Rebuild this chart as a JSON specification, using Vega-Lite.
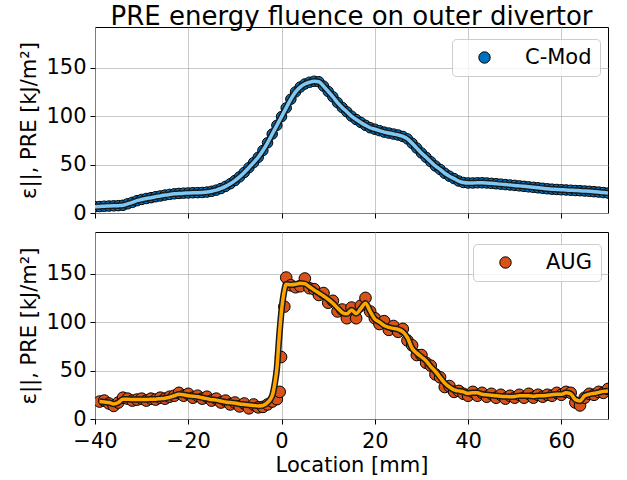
{
"$schema": "https://vega.github.io/schema/vega-lite/v6.json",
"padding": {"left": 18, "top": 3, "right": 5, "bottom": 5},
"config": {
 "font": "DejaVu Sans",
 "view": {"stroke": "black", "strokeWidth": 1},
 "axis": {"labelFontSize": 21, "titleFontSize": 21, "labelColor": "black", "titleColor": "black", "titleFontWeight": "normal", "tickColor": "black", "tickSize": 5, "domain": false, "gridColor": "#b0b0b0", "gridOpacity": 0.7, "labelPadding": 4, "labelFlush": false},
 "legend": {"orient": "none", "padding": 8, "strokeColor": "#cccccc", "fillColor": "rgba(255,255,255,0.8)", "cornerRadius": 4, "labelFontSize": 21, "labelColor": "black", "symbolSize": 130, "symbolOffset": 14, "labelOffset": 30, "symbolStrokeColor": "black", "symbolStrokeWidth": 1, "symbolOpacity": 1, "symbolType": "circle"},
 "title": {"fontSize": 26, "fontWeight": "normal", "color": "black"}
},
"datasets": {
 "cmod": [
{"x":-40,"e":6.5},{"x":-39,"e":6.7},{"x":-38,"e":7},{"x":-37,"e":7.2},{"x":-36,"e":7.4},{"x":-35,"e":7.6},{"x":-34,"e":8},{"x":-33,"e":9.5},{"x":-32,"e":11},{"x":-31,"e":12.7},
{"x":-30,"e":14},{"x":-29,"e":15},{"x":-28,"e":15.8},{"x":-27,"e":16.8},{"x":-26,"e":17.6},{"x":-25,"e":18.5},{"x":-24,"e":19.2},{"x":-23,"e":19.8},{"x":-22,"e":20.2},{"x":-21,"e":20.5},
{"x":-20,"e":20.7},{"x":-19,"e":20.9},{"x":-18,"e":21},{"x":-17,"e":21.2},{"x":-16,"e":21.6},{"x":-15,"e":22.4},{"x":-14,"e":23.6},{"x":-13,"e":25.3},{"x":-12,"e":27.5},{"x":-11,"e":30.2},
{"x":-10,"e":33.5},{"x":-9,"e":37.3},{"x":-8,"e":41.8},{"x":-7,"e":46.8},{"x":-6,"e":52},{"x":-5,"e":57.5},{"x":-4,"e":64.5},{"x":-3,"e":72.5},{"x":-2,"e":81.5},{"x":-1,"e":90.5},
{"x":0,"e":99.5},{"x":1,"e":108.5},{"x":2,"e":117.5},{"x":3,"e":125},{"x":4,"e":130},{"x":5,"e":133.2},{"x":6,"e":135},{"x":7,"e":136},{"x":8,"e":135.5},{"x":9,"e":131},
{"x":10,"e":125.5},{"x":11,"e":120},{"x":12,"e":114},{"x":13,"e":109},{"x":14,"e":104.5},{"x":15,"e":100},{"x":16,"e":96.5},{"x":17,"e":93.5},{"x":18,"e":90.5},{"x":19,"e":88},
{"x":20,"e":86.5},{"x":21,"e":85},{"x":22,"e":83.5},{"x":23,"e":82.5},{"x":24,"e":81.5},{"x":25,"e":80.5},{"x":26,"e":79},{"x":27,"e":76.5},{"x":28,"e":72},{"x":29,"e":67},
{"x":30,"e":62},{"x":31,"e":57.5},{"x":32,"e":53},{"x":33,"e":48.5},{"x":34,"e":45},{"x":35,"e":41},{"x":36,"e":38},{"x":37,"e":35.5},{"x":38,"e":33},{"x":39,"e":31.5},
{"x":40,"e":31},{"x":41,"e":31},{"x":42,"e":31.2},{"x":43,"e":31.2},{"x":44,"e":31},{"x":45,"e":30.6},{"x":46,"e":30.2},{"x":47,"e":29.8},{"x":48,"e":29.3},{"x":49,"e":28.9},
{"x":50,"e":28.5},{"x":51,"e":28},{"x":52,"e":27.5},{"x":53,"e":27},{"x":54,"e":26.5},{"x":55,"e":26},{"x":56,"e":25.5},{"x":57,"e":25},{"x":58,"e":24.6},{"x":59,"e":24.3},
{"x":60,"e":24},{"x":61,"e":23.8},{"x":62,"e":23.5},{"x":63,"e":23.2},{"x":64,"e":23},{"x":65,"e":22.7},{"x":66,"e":22.4},{"x":67,"e":22},{"x":68,"e":21.6},{"x":69,"e":21.1},{"x":70,"e":20.6}
 ],
 "aug": [
{"x":-39,"e":18},{"x":-38,"e":19},{"x":-37,"e":16},{"x":-36,"e":13.5},{"x":-35,"e":17},{"x":-34,"e":22},{"x":-33,"e":21},{"x":-32,"e":19},{"x":-31,"e":20},{"x":-30,"e":21},
{"x":-29,"e":19},{"x":-28,"e":21},{"x":-27,"e":20},{"x":-26,"e":22},{"x":-25,"e":21},{"x":-24,"e":23},{"x":-23,"e":24},{"x":-22,"e":27},{"x":-21,"e":24},{"x":-20,"e":26},
{"x":-19,"e":22},{"x":-18,"e":24},{"x":-17,"e":21},{"x":-16,"e":23},{"x":-15,"e":19},{"x":-14,"e":21},{"x":-13,"e":17},{"x":-12,"e":19},{"x":-11,"e":15},{"x":-10,"e":17},
{"x":-9,"e":13},{"x":-8,"e":16},{"x":-7,"e":11},{"x":-6,"e":15},{"x":-5,"e":12},{"x":-4,"e":12.5},{"x":-3,"e":15},{"x":-2,"e":18},{"x":-1,"e":20.5},{"x":-0.4,"e":28},
{"x":-0.1,"e":64},{"x":0.6,"e":116},{"x":1,"e":146},{"x":2,"e":138},{"x":3,"e":136},{"x":4,"e":137},{"x":5,"e":145},{"x":6,"e":135},{"x":7,"e":134},{"x":8,"e":128},
{"x":9,"e":130},{"x":10,"e":120},{"x":11,"e":122},{"x":12,"e":111},{"x":13,"e":113},{"x":14,"e":104},{"x":15,"e":115},{"x":16,"e":104},{"x":17,"e":117},{"x":18,"e":125},
{"x":19,"e":111},{"x":20,"e":104},{"x":21,"e":98},{"x":22,"e":101},{"x":23,"e":92},{"x":24,"e":96},{"x":25,"e":90},{"x":26,"e":93},{"x":27,"e":81},{"x":28,"e":76},
{"x":29,"e":66},{"x":30,"e":66},{"x":31,"e":58},{"x":32,"e":55},{"x":33,"e":46},{"x":34,"e":43},{"x":35,"e":33},{"x":36,"e":34},{"x":37,"e":28},{"x":38,"e":29},
{"x":39,"e":26},{"x":40,"e":24},{"x":41,"e":28},{"x":42,"e":24},{"x":43,"e":27},{"x":44,"e":23},{"x":45,"e":26},{"x":46,"e":22},{"x":47,"e":25},{"x":48,"e":21},
{"x":49,"e":24},{"x":50,"e":22},{"x":51,"e":25},{"x":52,"e":22},{"x":53,"e":26},{"x":54,"e":22},{"x":55,"e":25},{"x":56,"e":23},{"x":57,"e":25},{"x":58,"e":24},
{"x":59,"e":27},{"x":60,"e":25},{"x":61,"e":28},{"x":62,"e":27},{"x":63,"e":17},{"x":64,"e":14},{"x":65,"e":22},{"x":66,"e":26},{"x":67,"e":25},{"x":68,"e":28},{"x":69,"e":27},{"x":70,"e":31}
 ],
 "augfit": [
{"x":-39,"f":18},{"x":-38,"f":17.5},{"x":-37,"f":17},{"x":-36,"f":15.5},{"x":-35,"f":17},{"x":-34,"f":20.5},{"x":-33,"f":20.5},{"x":-32,"f":20},{"x":-31,"f":20},{"x":-30,"f":20},
{"x":-29,"f":20},{"x":-28,"f":20.5},{"x":-27,"f":20.5},{"x":-26,"f":21},{"x":-25,"f":21.5},{"x":-24,"f":22.5},{"x":-23,"f":24},{"x":-22,"f":25.5},{"x":-21,"f":25},{"x":-20,"f":24},
{"x":-19,"f":23.5},{"x":-18,"f":23},{"x":-17,"f":22},{"x":-16,"f":21},{"x":-15,"f":20},{"x":-14,"f":19.5},{"x":-13,"f":18.5},{"x":-12,"f":17.5},{"x":-11,"f":17},{"x":-10,"f":16.5},
{"x":-9,"f":15.5},{"x":-8,"f":15},{"x":-7,"f":14.5},{"x":-6,"f":14},{"x":-5,"f":13.5},{"x":-4,"f":14},{"x":-3,"f":17},{"x":-2,"f":24},{"x":-1.5,"f":35},{"x":-1,"f":52},
{"x":-0.5,"f":85},{"x":0,"f":112},{"x":0.5,"f":130},{"x":1,"f":139},{"x":2,"f":138.5},{"x":3,"f":139},{"x":4,"f":140},{"x":5,"f":139.5},{"x":6,"f":136.5},{"x":7,"f":133},
{"x":8,"f":130},{"x":9,"f":127},{"x":10,"f":123.5},{"x":11,"f":119.5},{"x":12,"f":114.5},{"x":13,"f":110},{"x":14,"f":108.5},{"x":15,"f":112.5},{"x":16,"f":109},{"x":17,"f":114},
{"x":18,"f":119.5},{"x":19,"f":111},{"x":20,"f":103},{"x":21,"f":100},{"x":22,"f":96.5},{"x":23,"f":94.5},{"x":24,"f":93.5},{"x":25,"f":92.5},{"x":26,"f":90},{"x":27,"f":84},
{"x":28,"f":73},{"x":29,"f":68},{"x":30,"f":64},{"x":31,"f":60},{"x":32,"f":54},{"x":33,"f":49},{"x":34,"f":43},{"x":35,"f":37},{"x":36,"f":33},{"x":37,"f":30},
{"x":38,"f":29},{"x":39,"f":28},{"x":40,"f":26.5},{"x":41,"f":27},{"x":42,"f":27},{"x":43,"f":25.5},{"x":44,"f":25},{"x":45,"f":24.6},{"x":46,"f":24},{"x":47,"f":23.5},
{"x":48,"f":23.2},{"x":49,"f":23},{"x":50,"f":23.3},{"x":51,"f":24},{"x":52,"f":24},{"x":53,"f":24},{"x":54,"f":23.5},{"x":55,"f":24},{"x":56,"f":24},{"x":57,"f":24.5},
{"x":58,"f":25},{"x":59,"f":25.5},{"x":60,"f":25.6},{"x":61,"f":27},{"x":62,"f":26},{"x":63,"f":20},{"x":64,"f":18.7},{"x":65,"f":24},{"x":66,"f":25.6},{"x":67,"f":26.5},
{"x":68,"f":27.5},{"x":69,"f":28.5},{"x":70,"f":29}
 ]
},
"spacing": 7,
"resolve": {"scale": {"color": "independent"}},
"vconcat": [
 {
  "width": 513, "height": 186,
  "title": {"text": "PRE energy fluence on outer divertor", "frame": "group", "anchor": "middle", "offset": -3},
  "data": {"name": "cmod"},
  "encoding": {
   "x": {"field": "x", "type": "quantitative", "scale": {"domain": [-40, 70], "nice": false}, "axis": {"values": [-40,-20,0,20,40,60], "labels": false, "title": null}},
   "y": {"field": "e", "type": "quantitative", "scale": {"domain": [0, 192], "nice": false}, "axis": {"values": [0,50,100,150], "title": "ε||, PRE [kJ/m²]", "titlePadding": 6}}
  },
  "layer": [
   {"mark": {"type": "point", "filled": true, "stroke": "black", "strokeWidth": 1, "opacity": 1, "size": 110, "clip": true},
    "encoding": {"color": {"datum": "C-Mod", "type": "nominal", "scale": {"domain": ["C-Mod"], "range": ["#0072BD"]}, "legend": {"title": null, "legendX": 357, "legendY": 12}}}},
   {"mark": {"type": "line", "color": "#1a1a1a", "strokeWidth": 6.5, "interpolate": "monotone", "clip": true}, "encoding": {}},
   {"mark": {"type": "line", "color": "#7EC8F5", "strokeWidth": 3.5, "interpolate": "monotone", "clip": true}, "encoding": {}}
  ]
 },
 {
  "width": 513, "height": 187,
  "encoding": {
   "x": {"field": "x", "type": "quantitative", "scale": {"domain": [-40, 70], "nice": false}, "axis": {"values": [-40,-20,0,20,40,60], "title": "Location [mm]", "labelPadding": 6, "titlePadding": 3}},
   "y": {"type": "quantitative", "scale": {"domain": [0, 193], "nice": false}, "axis": {"values": [0,50,100,150], "title": "ε||, PRE [kJ/m²]", "titlePadding": 6}}
  },
  "layer": [
   {"data": {"name": "aug"},
    "mark": {"type": "point", "filled": true, "stroke": "black", "strokeWidth": 1, "opacity": 1, "size": 135, "clip": true},
    "encoding": {"y": {"field": "e", "type": "quantitative"}, "color": {"datum": "AUG", "type": "nominal", "scale": {"domain": ["AUG"], "range": ["#D95319"]}, "legend": {"title": null, "legendX": 378, "legendY": 12}}}},
   {"data": {"name": "augfit"},
    "mark": {"type": "line", "color": "#1a1a1a", "strokeWidth": 6.5, "interpolate": "monotone", "clip": true},
    "encoding": {"y": {"field": "f", "type": "quantitative"}}},
   {"data": {"name": "augfit"},
    "mark": {"type": "line", "color": "#FFA500", "strokeWidth": 3.5, "interpolate": "monotone", "clip": true},
    "encoding": {"y": {"field": "f", "type": "quantitative"}}}
  ]
 }
]
}
